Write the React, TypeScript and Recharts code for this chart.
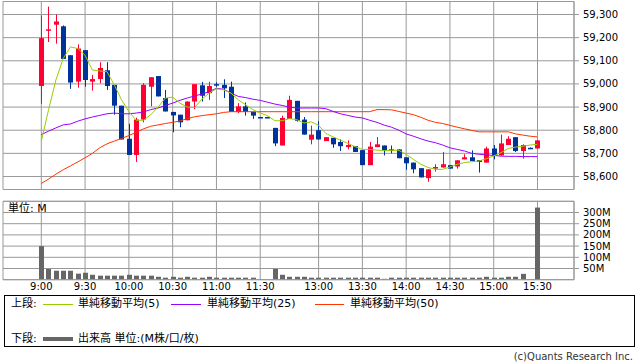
import React from 'react';
import { ComposedChart, Bar, Line, XAxis, YAxis, CartesianGrid, ReferenceLine } from 'recharts';

const FONT = "'DejaVu Sans', 'Noto Sans CJK JP', sans-serif";
const RED = '#ff0033';
const BLUE = '#003399';
const GRID = '#999999';
const C_MA5 = '#99cc00';
const C_MA25 = '#9900ff';
const C_MA50 = '#ff3300';
const C_VOL = '#666666';

// 5-minute slots: 0 = 9:00 ... 30 = 11:30, 31 = 11:35(closing), 32 = 12:30 ... 68 = 15:30
const opens = [58991, 59230, 59256, 59249, 59124, 59010, 59146, 59010, 59021, 59059, 58996, 58906, 58763, 58693, 58846, 58988, 59034, 58939, 58879, 58867, 58843, 58924, 58994, 58960, 58999, 58996, 58988, 58879, 58903, 58879, 58857, 58857, 58810, 58734, 58849, 58927, 58846, 58759, 58800, 58753, 58767, 58749, 58727, 58731, 58714, 58649, 58727, 58734, 58717, 58717, 58683, 58660, 58636, 58593, 58634, 58639, 58649, 58643, 58674, 58683, 58671, 58660, 58721, 58691, 58736, 58770, 58710, 58724, 58721];
const highs = [59296, 59334, 59300, 59253, 59124, 59171, 59146, 59039, 59094, 59094, 58996, 58906, 58828, 58854, 59003, 59029, 59034, 58974, 58879, 58867, 58924, 58999, 59009, 59009, 59007, 59020, 59010, 58917, 58920, 58879, 58858, 58858, 58810, 58863, 58949, 58927, 58857, 58820, 58839, 58770, 58767, 58760, 58756, 58731, 58714, 58749, 58771, 58734, 58734, 58717, 58683, 58660, 58636, 58631, 58653, 58706, 58649, 58670, 58696, 58713, 58671, 58729, 58736, 58781, 58774, 58770, 58739, 58725, 58756];
const lows = [58914, 59181, 59174, 59108, 58979, 58984, 58988, 58971, 59003, 58974, 58867, 58760, 58693, 58663, 58834, 58903, 58946, 58881, 58791, 58813, 58843, 58891, 58924, 58931, 58988, 58939, 58879, 58874, 58863, 58849, 58856, 58856, 58731, 58734, 58849, 58837, 58781, 58739, 58760, 58753, 58724, 58710, 58717, 58706, 58649, 58649, 58727, 58691, 58700, 58679, 58629, 58614, 58596, 58577, 58621, 58639, 58634, 58634, 58674, 58667, 58617, 58660, 58674, 58691, 58736, 58706, 58677, 58723, 58721];
const closes = [59198, 59236, 59270, 59108, 59006, 59153, 59017, 59021, 59069, 58991, 58906, 58760, 58693, 58846, 58996, 59029, 58946, 58881, 58864, 58834, 58924, 58999, 58949, 58991, 58999, 58981, 58879, 58903, 58879, 58863, 58857, 58857, 58743, 58853, 58931, 58841, 58781, 58781, 58760, 58770, 58739, 58731, 58736, 58706, 58649, 58729, 58739, 58714, 58713, 58679, 58657, 58631, 58596, 58631, 58641, 58653, 58634, 58670, 58683, 58667, 58663, 58721, 58691, 58743, 58763, 58710, 58736, 58724, 58756];

const ma5 = [58753, 58889, 59017, 59110, 59160, 59153, 59124, 59060, 59056, 59053, 58996, 58931, 58881, 58843, 58843, 58867, 58900, 58939, 58943, 58917, 58900, 58898, 58934, 58960, 58979, 58974, 58960, 58931, 58910, 58889, 58874, 58863, 58841, 58841, 58850, 58846, 58831, 58836, 58821, 58786, 58771, 58757, 58743, 58729, 58717, 58717, 58714, 58712, 58713, 58713, 58696, 58674, 58653, 58639, 58631, 58631, 58641, 58653, 58660, 58664, 58667, 58677, 58689, 58703, 58721, 58727, 58731, 58736, 58739];
const ma25 = [58781, 58796, 58810, 58823, 58827, 58839, 58849, 58857, 58864, 58871, 58874, 58871, 58871, 58874, 58879, 58889, 58896, 58907, 58917, 58929, 58939, 58948, 58956, 58967, 58981, 58977, 58960, 58946, 58941, 58934, 58929, 58921, 58913, 58907, 58900, 58896, 58896, 58896, 58896, 58893, 58881, 58871, 58864, 58857, 58853, 58843, 58834, 58822, 58813, 58800, 58784, 58774, 58763, 58753, 58746, 58736, 58724, 58717, 58710, 58700, 58696, 58693, 58691, 58688, 58687, 58687, 58686, 58686, 58686];
const ma50 = [58570, 58589, 58610, 58629, 58646, 58663, 58681, 58700, 58724, 58741, 58753, 58764, 58777, 58791, 58806, 58817, 58823, 58829, 58834, 58840, 58850, 58858, 58863, 58867, 58871, 58877, 58880, 58880, 58880, 58880, 58880, 58880, 58880, 58880, 58880, 58880, 58880, 58880, 58880, 58880, 58880, 58880, 58880, 58880, 58880, 58880, 58889, 58889, 58888, 58881, 58874, 58867, 58856, 58843, 58834, 58829, 58821, 58813, 58806, 58799, 58793, 58793, 58793, 58793, 58793, 58784, 58779, 58774, 58771];

// volume in millions
const volumes = [150, 48, 40, 40, 40, 27, 31, 22, 18, 18, 18, 18, 22, 18, 18, 18, 13, 9, 13, 9, 13, 9, 9, 13, 9, 9, 9, 9, 9, 9, 2, 0, 48, 22, 13, 13, 13, 9, 9, 9, 9, 9, 9, 9, 9, 9, 9, 4, 9, 9, 9, 9, 9, 9, 9, 9, 9, 9, 9, 9, 9, 13, 9, 9, 13, 13, 26, 1, 322];

const tickSlots = [0, 6, 12, 18, 24, 30, 38, 44, 50, 56, 62, 68];
const tickLabels = ['9:00', '9:30', '10:00', '10:30', '11:00', '11:30', '13:00', '13:30', '14:00', '14:30', '15:00', '15:30'];
const priceTicks = [58600, 58700, 58800, 58900, 59000, 59100, 59200, 59300];
const volTicks = [50, 100, 150, 200, 250, 300];

const PRICE_MIN = 58543.8;
const PRICE_MAX = 59356.2;
const VOL_MAX = 350;
const X_DOMAIN: [number, number] = [-5.25, 73];

const data = opens.map((o, i) => ({
  x: i,
  open: o,
  high: highs[i],
  low: lows[i],
  close: closes[i],
  range: [lows[i], highs[i]],
  ma5: ma5[i],
  ma25: ma25[i],
  ma50: ma50[i],
  vol: volumes[i],
}));

const Candle = (props: any) => {
  const { x, y, width, height, payload } = props;
  if (x == null || y == null) return null;
  const top = Math.min(y, y + height);
  const h = Math.abs(height);
  const { open, close, high, low } = payload;
  const rng = high - low;
  const py = (p: number) => (rng === 0 ? top : top + ((high - p) / rng) * h);
  const color = close > open ? RED : BLUE;
  const cx = Math.round(x + width / 2);
  const bTop = py(Math.max(open, close));
  const bBot = py(Math.min(open, close));
  return (
    <g>
      <line x1={cx + 0.5} x2={cx + 0.5} y1={top} y2={top + h} stroke={color} strokeWidth={1} />
      <rect x={cx - 2} y={bTop} width={5} height={Math.max(bBot - bTop, 1.5)} fill={color} />
    </g>
  );
};

const VolBar = (props: any) => {
  const { x, y, width, height } = props;
  if (x == null || !height) return null;
  const cx = Math.round(x + width / 2);
  const top = Math.min(y, y + height);
  return <rect x={cx - 2} y={top} width={5} height={Math.abs(height)} fill={C_VOL} />;
};

const tickStyle = { fontSize: 10, fill: '#000', fontFamily: FONT };

const legendText: React.CSSProperties = {
  position: 'absolute',
  fontSize: 11,
  fontFamily: FONT,
  color: '#000',
  lineHeight: '14px',
  whiteSpace: 'nowrap',
};

export default function App() {
  return (
    <div style={{ position: 'absolute', left: 0, top: 0, width: 638, height: 362, background: '#fff', overflow: 'hidden' }}>
      <div style={{ position: 'absolute', left: 0, top: 0 }}>
        <ComposedChart width={638} height={200} data={data} margin={{ top: 1.5, right: 0, left: 3, bottom: 10.5 }}>
          <CartesianGrid stroke={GRID} strokeWidth={1} />
          <XAxis dataKey="x" type="number" domain={X_DOMAIN} ticks={tickSlots} hide allowDataOverflow />
          <YAxis
            orientation="right"
            width={64}
            domain={[PRICE_MIN, PRICE_MAX]}
            ticks={priceTicks}
            interval={0}
            allowDataOverflow
            tickSize={5}
            tickMargin={4}
            axisLine={{ stroke: GRID }}
            tickLine={{ stroke: GRID }}
            tick={tickStyle}
            tickFormatter={(v: number) => v.toLocaleString('en-US')}
          />
          <ReferenceLine y={PRICE_MAX} stroke={GRID} />
          <ReferenceLine y={PRICE_MIN} stroke={GRID} />
          <Bar dataKey="range" barSize={5} shape={<Candle />} isAnimationActive={false} />
          <Line dataKey="ma50" stroke={C_MA50} strokeWidth={1} dot={false} type="linear" isAnimationActive={false} />
          <Line dataKey="ma25" stroke={C_MA25} strokeWidth={1} dot={false} type="linear" isAnimationActive={false} />
          <Line dataKey="ma5" stroke={C_MA5} strokeWidth={1} dot={false} type="linear" isAnimationActive={false} />
        </ComposedChart>
      </div>
      <div style={{ position: 'absolute', left: 0, top: 190 }}>
        <ComposedChart width={638} height={110} data={data} margin={{ top: 11.3, right: 0, left: 3, bottom: 0.3 }}>
          <CartesianGrid stroke={GRID} strokeWidth={1} />
          <XAxis
            dataKey="x"
            type="number"
            domain={X_DOMAIN}
            ticks={tickSlots}
            allowDataOverflow
            height={20}
            tickSize={0}
            tickMargin={3}
            tickLine={false}
            axisLine={{ stroke: GRID }}
            tick={tickStyle}
            tickFormatter={(v: number) => tickLabels[tickSlots.indexOf(v)]}
            interval={0}
          />
          <YAxis
            orientation="right"
            width={64}
            domain={[0, VOL_MAX]}
            ticks={volTicks}
            interval={0}
            allowDataOverflow
            tickSize={5}
            tickMargin={4}
            axisLine={{ stroke: GRID }}
            tickLine={{ stroke: GRID }}
            tick={tickStyle}
            tickFormatter={(v: number) => `${v}M`}
          />
          <ReferenceLine y={VOL_MAX} stroke={GRID} />
          <Bar dataKey="vol" barSize={5} shape={<VolBar />} isAnimationActive={false} />
        </ComposedChart>
      </div>
      <div style={{ ...legendText, left: 8, top: 202 }}>単位: M</div>

      <div style={{ position: 'absolute', left: 4, top: 295, width: 631, height: 52, border: '1px solid #000', boxSizing: 'border-box' }} />
      <div style={{ ...legendText, left: 11, top: 297 }}>上段:</div>
      <div style={{ position: 'absolute', left: 43, top: 304, width: 30, height: 1, background: C_MA5 }} />
      <div style={{ ...legendText, left: 78, top: 297 }}>単純移動平均(5)</div>
      <div style={{ position: 'absolute', left: 171, top: 304, width: 30, height: 1, background: C_MA25 }} />
      <div style={{ ...legendText, left: 207, top: 297 }}>単純移動平均(25)</div>
      <div style={{ position: 'absolute', left: 315, top: 304, width: 29, height: 1, background: C_MA50 }} />
      <div style={{ ...legendText, left: 350, top: 297 }}>単純移動平均(50)</div>

      <div style={{ ...legendText, left: 11, top: 332 }}>下段:</div>
      <div style={{ position: 'absolute', left: 43, top: 337, width: 30, height: 4, background: C_VOL }} />
      <div style={{ ...legendText, left: 78, top: 332 }}>出来高 単位:(M株/口/枚)</div>

      <div style={{ ...legendText, fontSize: 10, color: '#333', right: 5, top: 350, textAlign: 'right' }}>(c)Quants Research Inc.</div>
    </div>
  );
}
